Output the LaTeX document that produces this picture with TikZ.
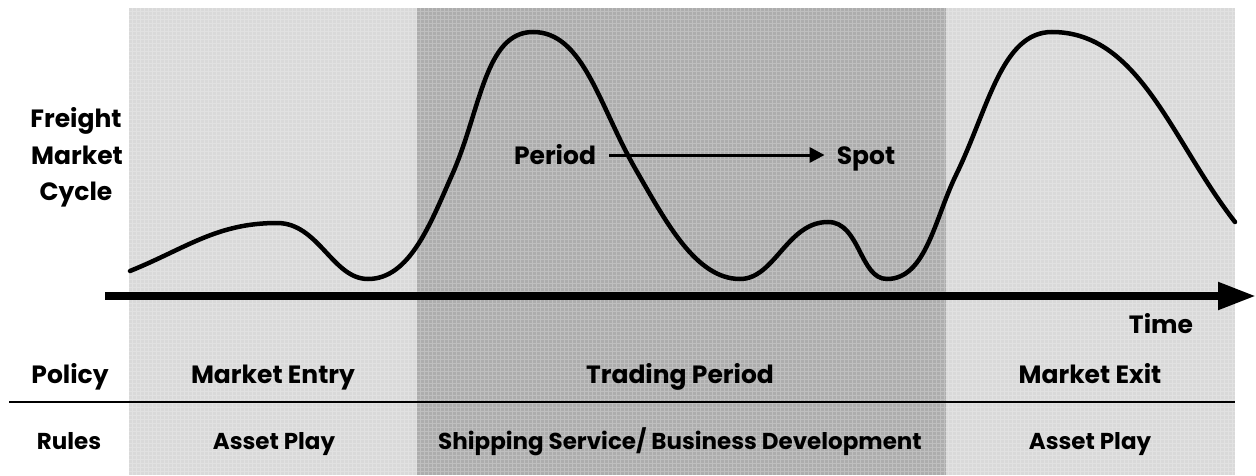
\documentclass[tikz,border=0pt]{standalone}
\usepackage{fontspec}
\setmainfont{Poppins}
\usetikzlibrary{arrows.meta}

\tikzset{
  headtxt/.style={font=\bfseries\fontsize{25}{30}\selectfont, inner sep=0pt, anchor=base},
  ruletxt/.style={font=\bfseries\fontsize{23}{28}\selectfont, inner sep=0pt, anchor=base},
  cycleline/.style={line width=4.5pt, line cap=round},
  uphill/.style={out looseness=1.1, in looseness=0.75},
  downhill/.style={out looseness=0.75, in looseness=1.1},
}

\begin{document}
\begin{tikzpicture}[x=1pt,y=1pt]
\useasboundingbox (0,0) rectangle (1256,475);

\def\hy{467}

% background bands
\fill[gray!30] (129,0) rectangle (1235,\hy);
\fill[gray!64] (417,0) rectangle (946,\hy);
\draw[white, opacity=0.22, line width=0.6pt, step=4] (129,0) grid (1235,\hy);

% time axis
\coordinate (t0) at (105,179);
\coordinate (t1) at (1256,179);
\draw[line width=8pt, -{Triangle[length=38pt,width=26pt]}] (t0) -- (t1);

% freight cycle
\coordinate (c0) at (130,204);
\coordinate (c1) at (277,252);
\coordinate (c2) at (368,196);
\coordinate (i1) at (452,300);
\coordinate (c3) at (533,443);
\coordinate (i2) at (636,305);
\coordinate (c4) at (740,196);
\coordinate (c5) at (828,253);
\coordinate (c6) at (887,196);
\coordinate (i3) at (956,300);
\coordinate (c7) at (1052,443);
\coordinate (c8) at (1235,253);

\draw[cycleline] (c0) to[out=22,in=180] (c1) to[out=0,in=180,in looseness=0.85] (c2)
    to[out=0,in=-114,out looseness=0.8] (i1) to[out=66,in=180,uphill] (c3)
    to[out=0,in=120,downhill] (i2) to[out=-60,in=180,in looseness=0.75] (c4)
    to[out=0,in=180,out looseness=0.85] (c5) to[out=0,in=180,in looseness=0.85] (c6)
    to[out=0,in=-116,out looseness=0.8] (i3) to[out=64,in=180,uphill] (c7)
    to[out=0,in=128,out looseness=0.85] (c8);

% labels
\node[headtxt] (fmc1) at (76,347) {Freight};
\node[headtxt] (fmc2) at (77,311) {Market};
\node[headtxt] (fmc3) at (76,275) {Cycle};
\node[headtxt] (period) at (555,311) {Period};
\node[headtxt] (spot) at (866,311) {Spot};
\draw[line width=3pt, -{Triangle[length=15pt,width=15pt]}, shorten <=13pt, shorten >=12pt]
    (period.east |- 0,320) -- (spot.west |- 0,320);
\node[headtxt] (time) at (1161,142) {Time};

\node[headtxt] (policy) at (70,92) {Policy};
\node[headtxt] (entry) at (273,92) {Market Entry};
\node[headtxt] (trading) at (680,92) {Trading Period};
\node[headtxt] (exit) at (1090,92) {Market Exit};

\coordinate (r0) at (9,73);
\coordinate (r1) at (1235,73);
\draw[line width=2pt] (r0) -- (r1);

\node[ruletxt] (rules) at (69,26) {Rules};
\node[ruletxt] (asset1) at (274,26) {Asset Play};
\node[ruletxt] (shipping) at (680,26) {Shipping Service/ Business Development};
\node[ruletxt] (asset2) at (1090,26) {Asset Play};

\end{tikzpicture}
\end{document}
